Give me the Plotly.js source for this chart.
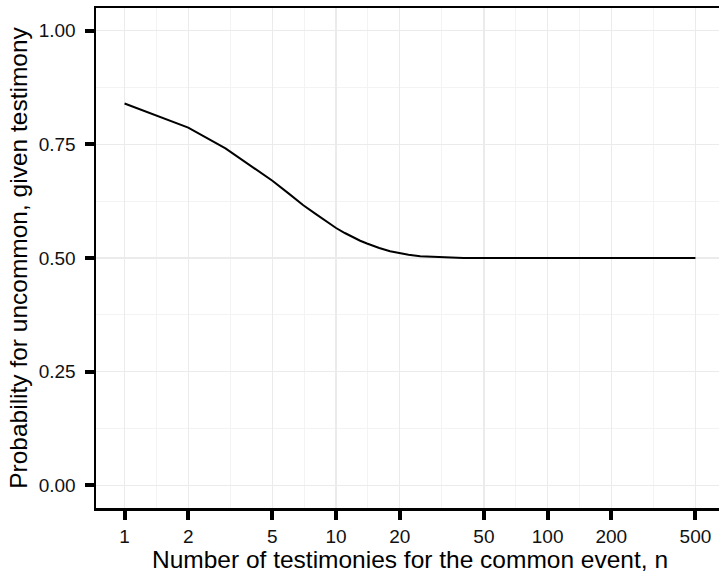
<!DOCTYPE html>
<html>
<head>
<meta charset="utf-8">
<script src="https://cdn.plot.ly/plotly-3.0.1.min.js"></script>
<style>
html, body { margin: 0; padding: 0; overflow: hidden; background: #fff; }
#chart { width: 730px; height: 573px; }
</style>
</head>
<body>
<div id="chart"></div>
<script>
// Data
const nTestimonies = [1, 2, 3, 4, 5, 6, 7, 8, 9, 10, 11, 12, 13, 14, 16, 18, 20, 22, 25, 30, 35, 40, 50, 100, 200, 500];
const probUncommon = [0.840, 0.787, 0.741, 0.702, 0.670, 0.641, 0.616, 0.597, 0.580, 0.566, 0.555, 0.546, 0.538, 0.532, 0.522, 0.515, 0.510, 0.507, 0.504, 0.502, 0.501, 0.500, 0.500, 0.500, 0.500, 0.500];

const xTickVals = [1, 2, 5, 10, 20, 50, 100, 200, 500];
const xTickText = ["1", "2", "5", "10", "20", "50", "100", "200", "500"];
const xMinorVals = [1.414, 3.162, 7.071, 14.14, 31.62, 70.71, 141.4, 316.2];
const yTickVals = [0, 0.25, 0.5, 0.75, 1];
const yTickText = ["0.00", "0.25", "0.50", "0.75", "1.00"];
const yMinorVals = [0.125, 0.375, 0.625, 0.875];

const xTitle = "Number of testimonies for the common event, n";
const yTitle = "Probability for uncommon, given testimony";

const FONT = "'Liberation Sans', Arial, Helvetica, sans-serif";

const trace = {
  x: nTestimonies,
  y: probUncommon,
  type: "scatter",
  mode: "lines",
  line: { color: "#000000", width: 2 },
  hoverinfo: "skip"
};

const layout = {
  width: 730,
  height: 573,
  margin: { l: 96, r: 6, t: 8, b: 65 },
  paper_bgcolor: "#ffffff",
  plot_bgcolor: "#ffffff",
  showlegend: false,
  font: { family: FONT, color: "#111111" },
  xaxis: {
    type: "log",
    range: [-0.135, 2.834],
    tickmode: "array",
    tickvals: xTickVals,
    ticktext: xTickText,
    tickfont: { size: 19, family: FONT, color: "#111111" },
    ticks: "outside",
    ticklen: 9,
    tickwidth: 4,
    tickcolor: "#000000",
    ticklabelstandoff: 1,
    showline: true,
    linecolor: "#000000",
    linewidth: 2.5,
    mirror: true,
    showgrid: true,
    gridcolor: "#ebebeb",
    gridwidth: 1.2,
    zeroline: false,
    minor: {
      tickmode: "array",
      tickvals: xMinorVals,
      showgrid: true,
      gridcolor: "#f3f3f3",
      gridwidth: 1,
      ticks: ""
    },
    title: { text: xTitle, font: { size: 24.5, family: FONT, color: "#000000" }, standoff: 7 },
    automargin: false
  },
  yaxis: {
    range: [-0.05, 1.05],
    tickmode: "array",
    tickvals: yTickVals,
    ticktext: yTickText,
    tickfont: { size: 19, family: FONT, color: "#111111" },
    ticks: "outside",
    ticklen: 9,
    tickwidth: 4,
    tickcolor: "#000000",
    ticklabelstandoff: 5,
    showline: true,
    linecolor: "#000000",
    linewidth: 2.5,
    showgrid: true,
    gridcolor: "#ebebeb",
    gridwidth: 1.2,
    zeroline: false,
    minor: {
      tickmode: "array",
      tickvals: yMinorVals,
      showgrid: true,
      gridcolor: "#f3f3f3",
      gridwidth: 1,
      ticks: ""
    },
    title: { text: yTitle, font: { size: 24.5, family: FONT, color: "#000000" }, standoff: 4 },
    automargin: false
  }
};

Plotly.newPlot("chart", [trace], layout, { displayModeBar: false, staticPlot: true });
</script>
</body>
</html>
